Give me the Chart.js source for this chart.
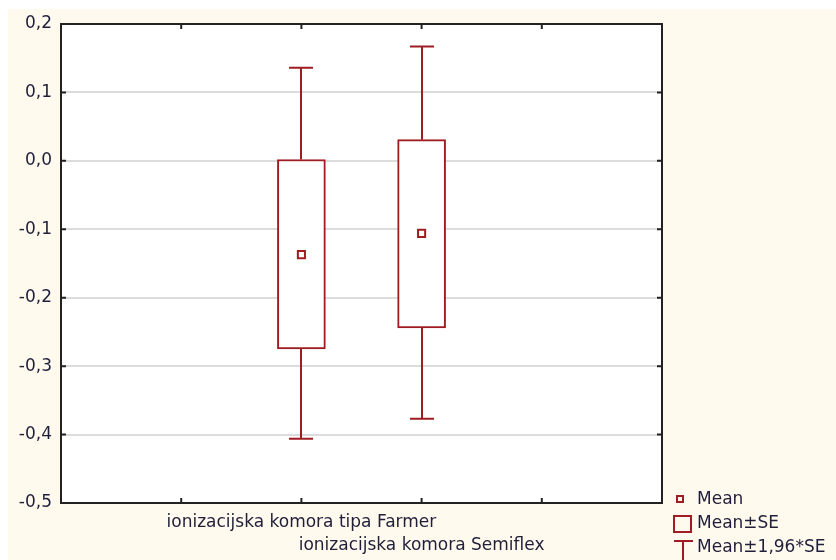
<!DOCTYPE html>
<html>
<head>
<meta charset="utf-8">
<title>Mean / SE plot</title>
<script src="https://cdn.jsdelivr.net/npm/chart.js@4/dist/chart.umd.min.js"></script>
<style>
  html, body { margin: 0; padding: 0; background: #fff; }
  #chart { display: block; }
</style>
</head>
<body>
<canvas id="chart" width="836" height="560"></canvas>
<script>
// data
const categories = ['ionizacijska komora tipa Farmer', 'ionizacijska komora Semiflex'];
const catPositions = [2, 3];
const xTickValues = [1, 2, 3, 4];
const means = [-0.137, -0.106];
const seLow = [-0.275, -0.244];
const seHigh = [0.002, 0.031];
const ciLow = [-0.406, -0.377];
const ciHigh = [0.136, 0.167];
const yTicks = [-0.5, -0.4, -0.3, -0.2, -0.1, 0.0, 0.1, 0.2];
const legendLabels = ['Mean', 'Mean±SE', 'Mean±1,96*SE'];

const RED = '#9e1c22';
const INK = '#1f1f3a';
const FONT = 'DejaVu Sans';

Chart.defaults.font.family = FONT;
Chart.defaults.font.size = 17;
Chart.defaults.color = INK;

const fmt = v => (Math.round(v * 10) / 10).toFixed(1).replace('.', ',');

// cream page background + white plot area
const backdrop = {
  id: 'backdrop',
  beforeDraw(chart) {
    const { ctx, chartArea: a } = chart;
    ctx.save();
    ctx.fillStyle = '#fff9ee';
    ctx.fillRect(8, 9, chart.width - 8, chart.height - 9);
    ctx.fillStyle = '#ffffff';
    ctx.fillRect(a.left, a.top, a.right - a.left, a.bottom - a.top);
    ctx.restore();
  }
};

// whiskers (Mean±1,96*SE)
const whiskers = {
  id: 'whiskers',
  beforeDatasetsDraw(chart) {
    const { ctx, scales: { x, y } } = chart;
    ctx.save();
    ctx.strokeStyle = RED;
    ctx.lineWidth = 2;
    catPositions.forEach((pos, i) => {
      const px = Math.round(x.getPixelForValue(pos));
      const top = y.getPixelForValue(ciHigh[i]);
      const bot = y.getPixelForValue(ciLow[i]);
      ctx.beginPath();
      ctx.moveTo(px, top); ctx.lineTo(px, y.getPixelForValue(seHigh[i]));
      ctx.moveTo(px, bot); ctx.lineTo(px, y.getPixelForValue(seLow[i]));
      ctx.moveTo(px - 12, top); ctx.lineTo(px + 12, top);
      ctx.moveTo(px - 12, bot); ctx.lineTo(px + 12, bot);
      ctx.stroke();
    });
    ctx.restore();
  }
};

// frame with inward ticks, and legend
const frame = {
  id: 'frame',
  afterDraw(chart) {
    const { ctx, chartArea: a, scales: { x, y } } = chart;
    ctx.save();
    ctx.strokeStyle = '#222';
    ctx.lineWidth = 2;
    ctx.strokeRect(a.left, a.top, a.right - a.left, a.bottom - a.top);
    ctx.beginPath();
    yTicks.forEach(v => {
      const py = y.getPixelForValue(v);
      ctx.moveTo(a.left, py); ctx.lineTo(a.left + 5, py);
      ctx.moveTo(a.right, py); ctx.lineTo(a.right - 5, py);
    });
    xTickValues.forEach(v => {
      const px = x.getPixelForValue(v);
      ctx.moveTo(px, a.top); ctx.lineTo(px, a.top + 5);
      ctx.moveTo(px, a.bottom); ctx.lineTo(px, a.bottom - 5);
    });
    ctx.stroke();

    // legend
    ctx.strokeStyle = RED;
    ctx.lineWidth = 2;
    ctx.strokeRect(677, 496, 6, 6);
    ctx.strokeRect(674, 516, 17, 16);
    ctx.beginPath();
    ctx.moveTo(674, 541); ctx.lineTo(693, 541);
    ctx.moveTo(683, 541); ctx.lineTo(683, 560);
    ctx.stroke();
    ctx.fillStyle = INK;
    ctx.font = '17px ' + FONT;
    ctx.textBaseline = 'middle';
    ctx.fillText(legendLabels[0], 697, 500);
    ctx.fillText(legendLabels[1], 697, 524);
    ctx.fillText(legendLabels[2], 697, 548);
    ctx.restore();
  }
};

new Chart(document.getElementById('chart'), {
  type: 'bar',
  data: {
    datasets: [
      {
        type: 'bar',
        label: 'Mean±SE',
        data: catPositions.map((pos, i) => ({ x: pos, y: [seLow[i], seHigh[i]] })),
        backgroundColor: '#ffffff',
        borderColor: RED,
        borderWidth: 2,
        borderSkipped: false,
        barThickness: 48,
        order: 2
      },
      {
        type: 'scatter',
        label: 'Mean',
        data: catPositions.map((pos, i) => ({ x: pos, y: means[i] })),
        pointStyle: 'rect',
        pointRadius: 5,
        backgroundColor: '#ffffff',
        borderColor: RED,
        borderWidth: 2,
        order: 1
      }
    ]
  },
  options: {
    responsive: false,
    animation: false,
    devicePixelRatio: 1,
    layout: { padding: { top: 24, right: 174, left: 0, bottom: 0 } },
    plugins: { legend: { display: false }, tooltip: { enabled: false } },
    scales: {
      x: {
        type: 'linear',
        offset: false,
        min: 0,
        max: 5,
        afterFit: s => { s.height = 57; },
        afterBuildTicks: s => { s.ticks = xTickValues.map(v => ({ value: v })); },
        grid: { display: false, drawTicks: false, offset: false },
        border: { display: false },
        ticks: {
          autoSkip: false,
          maxRotation: 0,
          padding: 8,
          font: { size: 17, lineHeight: 1.35 },
          callback: v => {
            const i = catPositions.indexOf(v);
            if (i < 0) return '';
            return i === 0 ? [categories[i]] : ['', categories[i]];
          }
        }
      },
      y: {
        min: -0.5,
        max: 0.2,
        afterFit: s => { s.width = 61; },
        afterBuildTicks: s => { s.ticks = yTicks.map(v => ({ value: v })); },
        grid: { color: '#dcdcdc', lineWidth: 2, drawTicks: false },
        border: { display: false },
        ticks: { padding: 9, callback: v => fmt(v) }
      }
    }
  },
  plugins: [backdrop, whiskers, frame]
});
</script>
</body>
</html>
